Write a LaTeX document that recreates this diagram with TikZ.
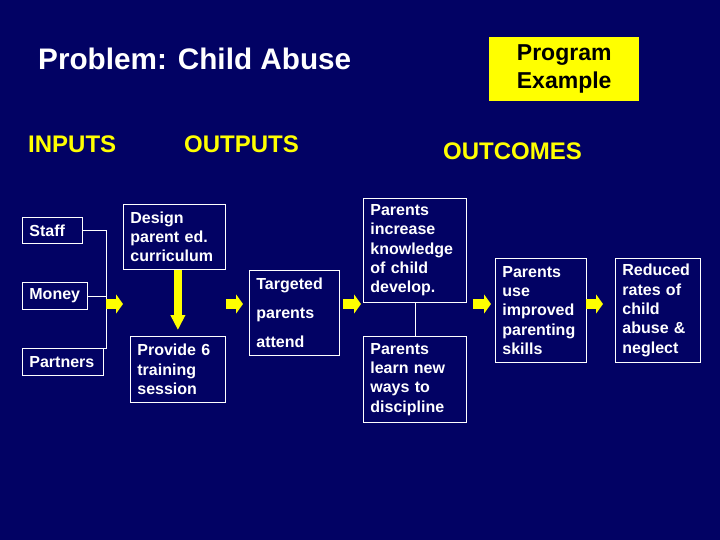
\documentclass[tikz,border=0pt]{standalone}
\usepackage{fontspec}
\setmainfont{Liberation Sans}
\usetikzlibrary{positioning,arrows.meta}
\definecolor{slidebg}{RGB}{2,2,100}
\definecolor{hiyellow}{RGB}{255,255,0}

\begin{document}
\begin{tikzpicture}[x=1pt, y=-1pt,
  box/.style={draw=white, line width=0.8pt, text=white, align=left, anchor=north west,
              font=\fontsize{16}{19.3}\selectfont\bfseries, inner xsep=7pt, inner ysep=0pt},
  head/.style={text=hiyellow, font=\fontsize{24}{28}\selectfont\bfseries, inner sep=0pt, anchor=west},
  link/.style={draw=white, line width=0.8pt},
  yarr/.style={draw=hiyellow, line width=10pt, -{Triangle[length=7pt, width=19pt]}},
  varr/.style={draw=hiyellow, line width=8pt, -{Triangle[length=15pt, width=14pt]}}]
\fill[slidebg] (0,0) rectangle (720,540);
% title, tag and column heads
\node[anchor=west, inner sep=0pt, text=white, font=\fontsize{29.7}{34}\selectfont\bfseries]
  (title) at (38,59) {Problem: Child Abuse};
\node[fill=hiyellow, text=black, align=center, font=\fontsize{23}{28}\selectfont\bfseries,
      minimum width=150pt, minimum height=64pt, inner sep=0pt, anchor=north west]
  (tag) at (489,37) {Program\\Example};
\node[head] (inputs) at (28,144) {INPUTS};
\node[head] (outputs) at (184,144) {OUTPUTS};
\node[head] (outcomes) at (443,151) {OUTCOMES};
% inputs
\node[box, text width=46pt, minimum height=26pt] (staff) at (22,217) {Staff};
\node[box, text width=51pt, minimum height=27pt] (money) at (22,282) {Money};
\node[box, text width=67pt, minimum height=27pt] (partners) at (22,348) {Partners};
% outputs
\node[box, text width=88pt, minimum height=65pt] (design) at (123,204) {Design\\parent ed.\\curriculum};
\node[box, text width=81pt, minimum height=66pt] (provide) at (130,336) {Provide 6\\training\\session};
\node[box, text width=76pt, minimum height=85pt, font=\fontsize{16}{29}\selectfont\bfseries]
  (targeted) at (249,270) {Targeted\\parents\\attend};
% outcomes
\node[box, text width=89pt, minimum height=104pt] (increase) at (363,198) {Parents\\increase\\knowledge\\of child\\develop.};
\node[box, text width=89pt, minimum height=86pt] (learn) at (363,336) {Parents\\learn new\\ways to\\discipline};
\node[box, text width=77pt, minimum height=104pt] (use) at (495,258) {Parents\\use\\improved\\parenting\\skills};
\node[box, text width=71pt, minimum height=104pt] (reduced) at (615,258) {Reduced\\rates of\\child\\abuse \&\\neglect};
% connectors
\coordinate (bus) at (106,300);
\coordinate (row) at (0,304);
\draw[link] (staff.east) -| (bus |- partners.north) -- (partners.north east);
\draw[link] (money.east) -- (money.east -| bus);
\draw[link] (increase.south) -- (learn.north);
\draw[yarr] (bus |- row) -- (design.west |- row);
\draw[varr] (design.south -| provide.north) -- ([yshift=6pt]provide.north);
\draw[yarr] (provide.east |- row) -- ([xshift=-6pt]targeted.west |- row);
\draw[yarr] ([xshift=3pt]targeted.east |- row) -- ([xshift=-2pt]increase.west |- row);
\draw[yarr] ([xshift=6pt]increase.east |- row) -- ([xshift=-4pt]use.west |- row);
\draw[yarr] ([xshift=-1pt]use.east |- row) -- ([xshift=-12pt]reduced.west |- row);
\end{tikzpicture}
\end{document}
